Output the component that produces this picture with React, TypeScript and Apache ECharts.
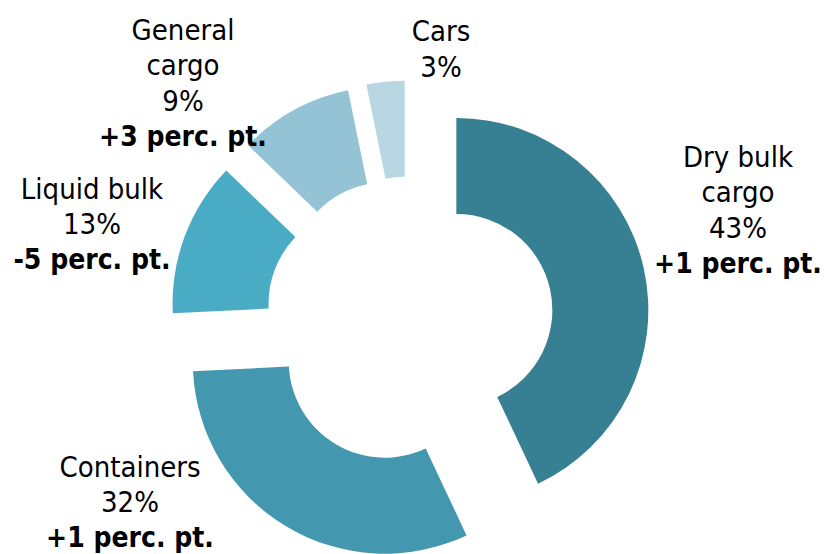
import React, { useEffect, useRef } from "react";
import * as echarts from "echarts";

const categories = ["Dry bulk cargo", "Containers", "Liquid bulk", "General cargo", "Cars"];
const shares = [43.0, 31.2, 13.0, 9.6, 3.2];
const nameLines = [["Dry bulk", "cargo"], ["Containers"], ["Liquid bulk"], ["General", "cargo"], ["Cars"]];
const percentLabels = ["43%", "32%", "13%", "9%", "3%"];
const changeLabels = ["+1 perc. pt.", "+1 perc. pt.", "-5 perc. pt.", "+3 perc. pt.", ""];
const colors = ["#377F93", "#4398AF", "#4AABC5", "#93C3D5", "#B8D7E3"];

// label block centres (layout, not data)
const labelPos = [
  { x: 738, y: 210 },
  { x: 130, y: 502 },
  { x: 92, y: 224 },
  { x: 183, y: 83 },
  { x: 441, y: 49 },
];

const FONT = "'DejaVu Sans Condensed', 'Liberation Sans', sans-serif";
const LINE_H = 35.5;

export default function App() {
  const ref = useRef<HTMLDivElement>(null);
  useEffect(() => {
    if (!ref.current) return;
    const chart = echarts.init(ref.current, undefined, { renderer: "svg" });
    const data = categories.map((name, i) => ({
      name,
      value: shares[i],
      selected: true,
      itemStyle: { color: colors[i] },
    }));

    const graphics: any[] = [];
    categories.forEach((_, i) => {
      const lines: { t: string; bold: boolean }[] = nameLines[i].map((t) => ({ t, bold: false }));
      lines.push({ t: percentLabels[i], bold: false });
      if (changeLabels[i]) lines.push({ t: changeLabels[i], bold: true });
      const n = lines.length;
      lines.forEach((ln, k) => {
        graphics.push({
          type: "text",
          z: 100,
          zlevel: 0,
          x: labelPos[i].x,
          y: labelPos[i].y + (k - (n - 1) / 2) * LINE_H,
          style: {
            text: ln.t,
            fontFamily: FONT,
            fontSize: ln.bold ? 28 : 29,
            fontWeight: ln.bold ? "bold" : "normal",
            fill: "#000",
            textAlign: "center",
            textVerticalAlign: "middle",
          },
        });
      });
    });

    chart.setOption({
      animation: false,
      backgroundColor: "#ffffff",
      graphic: graphics,
      series: [
        {
          type: "pie",
          z: 1,
          center: [409.5, 320.5],
          radius: [96, 192],
          startAngle: 90,
          clockwise: true,
          selectedMode: "multiple",
          selectedOffset: 48,
          avoidLabelOverlap: false,
          emphasis: { disabled: true },
          select: { itemStyle: {} },
          itemStyle: { borderWidth: 0 },
          label: { show: false },
          labelLine: { show: false },
          data,
        },
      ],
    });
    return () => chart.dispose();
  }, []);
  return (
    <div
      ref={ref}
      style={{ position: "absolute", left: 0, top: 0, width: 826, height: 554 }}
    />
  );
}
